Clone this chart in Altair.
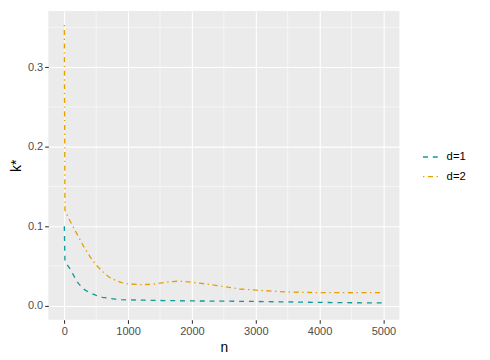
import altair as alt
import pandas as pd

n_vals = [1, 10, 50, 100, 200, 300, 400, 500, 600, 700, 800, 900, 1000, 1200, 1400,
          1600, 1800, 2000, 2250, 2500, 2750, 3000, 3500, 4000, 4500, 5000]
k_d1 = [0.100, 0.057, 0.051, 0.045, 0.030, 0.021, 0.016, 0.013, 0.0105, 0.0092, 0.0082,
        0.0076, 0.0073, 0.0070, 0.0067, 0.0064, 0.0062, 0.0060, 0.0058, 0.0057, 0.0055,
        0.0053, 0.0047, 0.0041, 0.0037, 0.0034]
k_d2 = [0.353, 0.120, 0.113, 0.105, 0.090, 0.075, 0.062, 0.051, 0.043, 0.036, 0.032,
        0.029, 0.0275, 0.0265, 0.027, 0.0295, 0.031, 0.0295, 0.027, 0.024, 0.021,
        0.0195, 0.0172, 0.0164, 0.0163, 0.0164]
groups = ["d=1", "d=2"]

x_major = [0, 1000, 2000, 3000, 4000, 5000]
x_minor = [500, 1500, 2500, 3500, 4500]
y_major = [0.0, 0.1, 0.2, 0.3]
y_minor = [0.05, 0.15, 0.25, 0.35]

df = pd.DataFrame({
    "n": n_vals + n_vals,
    "k": k_d1 + k_d2,
    "d": [groups[0]] * len(n_vals) + [groups[1]] * len(n_vals),
})

xs = alt.Scale(domain=[-250, 5250], nice=False, zero=False)
ys = alt.Scale(domain=[-0.01765, 0.3707], nice=False, zero=False)

xminor = alt.Chart(pd.DataFrame({"v": x_minor})).mark_rule(
    color="white", strokeWidth=0.55).encode(x=alt.X("v:Q", scale=xs))
yminor = alt.Chart(pd.DataFrame({"v": y_minor})).mark_rule(
    color="white", strokeWidth=0.55).encode(y=alt.Y("v:Q", scale=ys))

lines = alt.Chart(df).mark_line(strokeWidth=1.35).encode(
    x=alt.X("n:Q", scale=xs, title="n",
            axis=alt.Axis(values=x_major, format="d", grid=True)),
    y=alt.Y("k:Q", scale=ys, title="k*",
            axis=alt.Axis(values=y_major, format=".1f", grid=True)),
    color=alt.Color("d:N", title=None,
                    scale=alt.Scale(domain=groups, range=["#0E9A9A", "#E69F00"]),
                    legend=alt.Legend(orient="none", legendX=380, legendY=139,
                                      symbolType="stroke", symbolSize=289,
                                      symbolStrokeWidth=1.4, labelOffset=6,
                                      rowPadding=5, labelFontSize=11.5,
                                      labelColor="#000000", padding=0)),
    strokeDash=alt.StrokeDash("d:N", title=None,
                              scale=alt.Scale(domain=groups,
                                              range=[[5, 5], [1.4, 3.6, 5.2, 3.6]])),
    order="n:Q",
)

chart = alt.layer(xminor, yminor, lines).properties(
    width=357, height=314,
    autosize=alt.AutoSizeParams(type="none"),
    padding={"left": 41, "top": 0, "right": 84, "bottom": 38},
).configure_view(
    fill="#EBEBEB", stroke=None
).configure_axis(
    gridColor="white", gridWidth=1.1, domain=False,
    tickColor="#333333", tickSize=3.7, tickWidth=1.1,
    labelColor="#4D4D4D", labelFontSize=11.2, labelFont="Liberation Sans",
    titleFont="Liberation Sans", titleFontSize=14, titleFontWeight="normal",
    titleColor="#000000", labelPadding=2,
).configure_axisY(
    titlePadding=4
).configure_axisX(
    titlePadding=4
).configure_legend(
    labelFont="Liberation Sans"
)

chart.save("out.html", embed_options={"renderer": "svg", "actions": False})
